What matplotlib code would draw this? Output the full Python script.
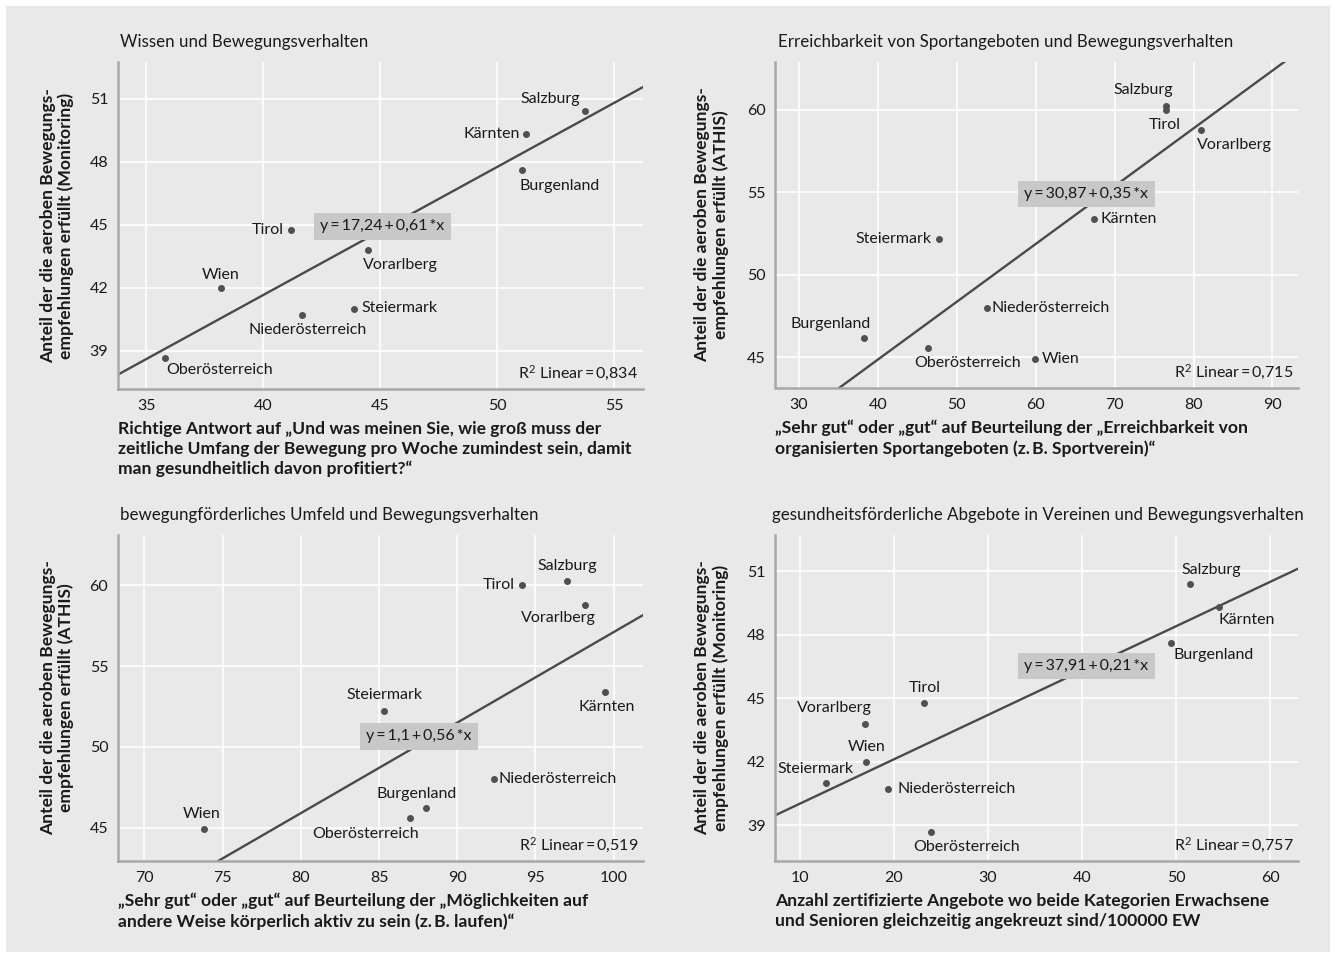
"""
Streudiagramme: Bewegungsverhalten nach Bundesland (4 Panels)
"""

import matplotlib
matplotlib.use("Agg")
from matplotlib import font_manager
from matplotlib import pyplot as plt
from matplotlib.patches import Rectangle
import numpy as np

regions = ["Burgenland", "Kärnten", "Niederösterreich", "Oberösterreich", "Salzburg",
           "Steiermark", "Tirol", "Vorarlberg", "Wien"]

# y-Werte: Anteil, der die Empfehlungen erfüllt
monitoring = [47.6, 49.3, 40.7, 38.65, 50.4, 41.0, 44.75, 43.8, 42.0]
athis = [46.2, 53.4, 48.0, 45.6, 60.25, 52.2, 60.0, 58.8, 44.9]

# x-Werte der vier Panels
wissen = [51.07, 51.24, 41.67, 35.8, 53.76, 43.89, 41.2, 44.49, 38.2]
erreichbarkeit = [38.2, 67.34, 53.8, 46.33, 76.5, 47.7, 76.5, 81.0, 59.87]
umfeld = [88.0, 99.46, 92.34, 86.99, 97.05, 85.35, 94.13, 98.2, 73.78]
angebote = [49.42, 54.5, 19.33, 23.89, 51.49, 12.82, 23.2, 16.97, 17.06]

intercepts = [17.24, 30.87, 1.1, 37.91]
slopes = [0.61, 0.35, 0.56, 0.21]
eq_texts = ["17,24", "30,87", "1,1", "37,91"]
slope_texts = ["0,61", "0,35", "0,56", "0,21"]
r2_texts = ["0,834", "0,715", "0,519", "0,757"]

titles = [
    "Wissen und Bewegungsverhalten",
    "Erreichbarkeit von Sportangeboten und Bewegungsverhalten",
    "bewegungförderliches Umfeld und Bewegungsverhalten",
    "gesundheitsförderliche Abgebote in Vereinen und Bewegungsverhalten",
]
xlabels = [
    "Richtige Antwort auf „Und was meinen Sie, wie groß muss der\n"
    "zeitliche Umfang der Bewegung pro Woche zumindest sein, damit\n"
    "man gesundheitlich davon profitiert?“",
    "„Sehr gut“ oder „gut“ auf Beurteilung der „Erreichbarkeit von\n"
    "organisierten Sportangeboten (z.\u2009B. Sportverein)“",
    "„Sehr gut“ oder „gut“ auf Beurteilung der „Möglichkeiten auf\n"
    "andere Weise körperlich aktiv zu sein (z.\u2009B. laufen)“",
    "Anzahl zertifizierte Angebote wo beide Kategorien Erwachsene\n"
    "und Senioren gleichzeitig angekreuzt sind/100000 EW",
]
ylabels = [
    "Anteil der die aeroben Bewegungs-\nempfehlungen erfüllt (Monitoring)",
    "Anteil der die aeroben Bewegungs-\nempfehlungen erfüllt (ATHIS)",
    "Anteil der die aeroben Bewegungs-\nempfehlungen erfüllt (ATHIS)",
    "Anteil der die aeroben Bewegungs-\nempfehlungen erfüllt (Monitoring)",
]
xticks = [np.arange(35, 56, 5), np.arange(30, 91, 10), np.arange(70, 101, 5), np.arange(10, 61, 10)]
yticks = [np.arange(39, 52, 3), np.arange(45, 61, 5), np.arange(45, 61, 5), np.arange(39, 52, 3)]

# Layout (Pixel im 1335x956-Bild)
XLIMS = [(33.8, 56.24), (27.03, 93.24), (68.31, 101.88), (7.42, 62.93)]
YLIMS = [(37.17, 52.74), (43.15, 62.89), (42.94, 63.11), (37.3, 52.72)]
AX_POS = [(118, 62, 525, 327), (775.5, 62, 522.5, 326), (118, 535, 525, 326), (775.5, 535, 522.5, 326)]
BOX_POS = [(0.503, 0.498), (0.595, 0.595), (0.573, 0.383), (0.595, 0.598)]

# Beschriftungs-Offsets (px) pro Panel, in Reihenfolge von regions
LABEL_OFFSETS = [
    [("left", -3, -16), ("right", -6, 0), ("center", 6, -15), ("left", 1, -12), ("right", -5, 12),
     ("left", 7, 1), ("right", -7, 0), ("left", -5, -15), ("center", 0, 13)],
    [("center", -33, 14), ("left", 7, 0), ("left", 5, 0), ("center", 40, -15), ("center", -23, 16),
     ("right", -7, 0), ("center", -1, -15), ("left", -4, -15), ("left", 7, 0)],
    [("center", -9, 14), ("center", 2, -15), ("left", 5, 0), ("center", -45, -16), ("center", 0, 15),
     ("center", 0, 16), ("right", -7, 0), ("center", -27, -13), ("center", -2, 15)],
    [("center", 43, -12), ("center", 28, -13), ("left", 10, 0), ("center", 36, -15), ("center", 21, 14),
     ("center", -11, 14), ("center", 1, 15), ("center", -31, 16), ("center", 0, 15)],
]

BG = "#e9e9e9"
TXT = "#1a1a1a"
W, H = 1335, 956

available = {f.name for f in font_manager.fontManager.ttflist}
main_font = "Lato" if "Lato" in available else "Liberation Sans"
plt.rcParams["font.family"] = [main_font, "DejaVu Sans"]
plt.rcParams["mathtext.default"] = "regular"

FS = 11.5
FS_TITLE = 12.2
FS_XLAB = 12.6
FS_YLAB = 12.6

fig = plt.figure(figsize=(W / 100, H / 100), dpi=100, facecolor="white")
fig.patches.append(Rectangle((6 / W, 1 - 952 / H), 1324 / W, 946 / H, transform=fig.transFigure,
                             facecolor=BG, edgecolor="none", zorder=-10))

panels = [(wissen, monitoring), (erreichbarkeit, athis), (umfeld, athis), (angebote, monitoring)]

for i, (xs, ys) in enumerate(panels):
    left, top, w, h = AX_POS[i]
    ax = fig.add_axes([left / W, 1 - (top + h) / H, w / W, h / H])
    ax.set_facecolor(BG)
    ax.set_axisbelow(True)
    ax.set_xlim(*XLIMS[i])
    ax.set_ylim(*YLIMS[i])
    ax.set_xticks(xticks[i])
    ax.set_yticks(yticks[i])
    ax.grid(True, color="white", linewidth=1.2)
    for s in ["top", "right"]:
        ax.spines[s].set_visible(False)
    for s in ["left", "bottom"]:
        ax.spines[s].set_color("#a8a8a8")
        ax.spines[s].set_linewidth(1.8)
    ax.tick_params(length=0, labelsize=FS, labelcolor=TXT, pad=7)

    # Regressionsgerade
    xx = np.array(XLIMS[i])
    ax.plot(xx, intercepts[i] + slopes[i] * xx, color="#4a4a4a", linewidth=1.7, zorder=2)

    ax.plot(xs, ys, "o", color="#505050", markersize=4, zorder=3)
    for name, x, y, (ha, dx, dy) in zip(regions, xs, ys, LABEL_OFFSETS[i]):
        ax.annotate(name, (x, y), xytext=(dx, dy), textcoords="offset pixels",
                    ha=ha, va="center", fontsize=FS, color=TXT)

    bx, by = BOX_POS[i]
    ax.text(bx, by, f"y\u2009=\u2009{eq_texts[i]}\u2009+\u2009{slope_texts[i]}\u2009*x",
            transform=ax.transAxes, ha="center", va="center", fontsize=FS, color=TXT, zorder=4,
            bbox=dict(boxstyle="square,pad=0.4", facecolor="#c8c8c8", edgecolor="none"))
    ax.text(0.991, 0.047, f"R$^2$ Linear\u2009=\u2009{r2_texts[i]}", transform=ax.transAxes,
            ha="right", va="center", fontsize=FS, color=TXT)

    ax.text(0.004 if i != 3 else -0.006, 1 + 20 / h, titles[i], transform=ax.transAxes,
            ha="left", va="center", fontsize=FS_TITLE, color=TXT)
    ax.text(0, -32 / h, xlabels[i], transform=ax.transAxes, ha="left", va="top",
            fontsize=FS_XLAB, fontweight="bold", color=TXT, linespacing=1.28)
    ax.text(-(61 if i % 2 == 0 else 64) / w, 0.5, ylabels[i], transform=ax.transAxes,
            rotation=90, ha="center", va="center", multialignment="center",
            fontsize=FS_YLAB, fontweight="bold", color=TXT, linespacing=1.15)

fig.savefig("out.png", dpi=100, facecolor="white")
